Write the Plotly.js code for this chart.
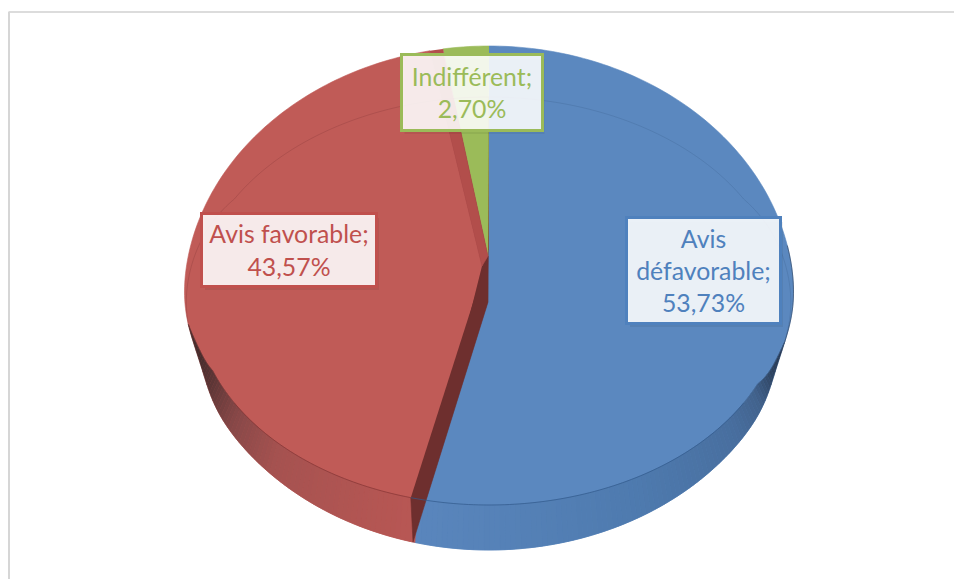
<!DOCTYPE html>
<html>
<head>
<meta charset="utf-8">
<script src="https://cdn.plot.ly/plotly-3.0.1.min.js"></script>
<style>html,body{margin:0;padding:0;background:#fff}#c{width:954px;height:579px}</style>
</head>
<body>
<div id="c"></div>
<script>
// Data
const categories = ['Avis défavorable', 'Avis favorable', 'Indifférent'];
const shares = [53.73, 43.57, 2.70];
const labels = ['Avis<br>défavorable;<br>53,73%', 'Avis favorable;<br>43,57%', 'Indifférent;<br>2,70%'];
const faceColors = ['#5b88bf', '#c05b57', '#9bbb59'];
const labelColors = ['#4f81bd', '#c0504d', '#9bbb59'];

// Projection of the tilted disc
const outer = {cx: 489, cy: 298, rx: 305, ry: 252, pinch: 6};
const inner = {cx: 489, cy: 301, rx: 294, ry: 204, pinch: 0};
const pt = (e, deg) => {
  const fromTop = deg <= 180 ? deg : 360 - deg;
  const pinch = e.pinch * Math.exp(-Math.pow((fromTop - 105) / 10, 2));
  return [e.cx + (e.rx - pinch) * Math.sin(deg * Math.PI / 180), e.cy - e.ry * Math.cos(deg * Math.PI / 180)];
};
const arc = (e, a, b, step = 1) => {
  const out = [];
  const n = Math.max(1, Math.round(Math.abs(b - a) / step));
  for (let i = 0; i <= n; i++) out.push(pt(e, a + (b - a) * i / n));
  return out;
};
const bounds = [0];
shares.forEach(s => bounds.push(bounds[bounds.length - 1] + s * 3.6));

const traces = [];
const poly = (pts, color, name) => traces.push({
  type: 'scatter', mode: 'lines', x: pts.map(p => p[0]), y: pts.map(p => p[1]),
  fill: 'toself', fillcolor: color, line: {color: color, width: 0.6, simplify: false},
  hoverinfo: 'skip', showlegend: false, name: name
});
const stroke = (pts, color, width) => traces.push({
  type: 'scatter', mode: 'lines', x: pts.map(p => p[0]), y: pts.map(p => p[1]),
  line: {color: color, width: width, simplify: false}, hoverinfo: 'skip', showlegend: false
});

const apexBlue = [488, 302], apexGreen = [488, 256], apexRed = [482, 266];
const splitOuter = bounds[1] + 1, splitInner = bounds[1] + 2;
const rimSplit = pt(inner, splitInner);
const outSplit = pt(outer, splitOuter);
const redEnd = bounds[2] - 1.5, greenStart = bounds[2] + 1;
const lerp = (o, n, t) => [o[0] + (n[0] - o[0]) * t, o[1] + (n[1] - o[1]) * t];

// dark interior seen through the gap between the slices
poly(arc(inner, 0, 360, 3), '#6e2f2e');

// faces
poly([...arc(outer, greenStart, bounds[3]), apexGreen], faceColors[2], categories[2]);
poly([...arc(outer, splitOuter, redEnd), apexRed], faceColors[1], categories[1]);
poly([...arc(outer, bounds[0], splitOuter), apexBlue, [489, 250]], faceColors[0], categories[0]);

// side wall shading
const stops = [[100, [38, 52, 75]], [108, [45, 66, 95]], [116, [66, 98, 140]], [125, [72, 110, 158]], [150, [78, 122, 174]], [splitOuter, [90, 134, 189]],
               [splitOuter + 0.01, [184, 87, 84]], [225, [165, 82, 80]], [238, [135, 72, 72]], [248, [95, 55, 55]], [256, [70, 45, 45]], [264, [70, 45, 45]]];
const shade = d => {
  for (let i = 0; i < stops.length - 1; i++) {
    if (d <= stops[i + 1][0]) {
      const t = (d - stops[i][0]) / (stops[i + 1][0] - stops[i][0]);
      const c = stops[i][1].map((v, k) => Math.round(v + (stops[i + 1][1][k] - v) * t));
      return `rgb(${c.join(',')})`;
    }
  }
  return 'rgb(70,45,45)';
};
const sideStart = 100, sideEnd = 264, sideStep = 1;
const clamp = v => Math.max(0, Math.min(1, v));
const taper = d => Math.min(clamp((d - sideStart) / 14), clamp((sideEnd - d) / 14));
const innerAt = d => lerp(pt(outer, d), pt(inner, d), taper(d));
for (let d = sideStart; d < sideEnd; d += sideStep) {
  const b = d + sideStep;
  poly([pt(outer, d), pt(outer, b), innerAt(b), innerAt(d)], shade(d + sideStep / 2));
}

// inner walls exposed by the pulled-out slice
poly([rimSplit, outSplit, apexBlue, apexGreen], '#6e2f2e');
poly([pt(outer, greenStart), apexGreen, apexRed, pt(outer, redEnd)], '#b24e4b');

// rim lines: the upper rim runs into the silhouette where the side wall begins
const rimAt = d => {
  if (d >= sideStart && d <= sideEnd) return innerAt(d);
  if (d > 60 && d < sideStart) return lerp(pt(inner, d), pt(outer, d), (d - 60) / 40);
  if (d > sideEnd && d < 300) return lerp(pt(inner, d), pt(outer, d), (300 - d) / 36);
  return pt(inner, d);
};
const rimArc = (a, b) => { const o = []; for (let d = a; d <= b; d += 1) o.push(rimAt(d)); o.push(rimAt(b)); return o; };
stroke(rimArc(120, splitInner), 'rgba(50,90,140,0.7)', 1);
stroke(rimArc(splitInner, 240), 'rgba(130,50,50,0.65)', 1);
stroke(rimArc(0, 120), 'rgba(70,110,160,0.45)', 1);
stroke(rimArc(240, 360), 'rgba(140,60,60,0.35)', 1);
stroke(arc(outer, 78, 100), 'rgba(40,60,90,0.6)', 1);

const boxes = [
  {x: 703.5, y: 270.5, w: 151, h: 103},
  {x: 289, y: 250, w: 172, h: 70},
  {x: 471.5, y: 92.5, w: 138, h: 73}
];
const annotations = boxes.map((b, i) => ({
  x: b.x, y: b.y, xref: 'x', yref: 'y', xanchor: 'center', yanchor: 'middle',
  text: labels[i], showarrow: false, width: b.w, height: b.h, align: 'center', valign: 'middle',
  bgcolor: 'rgba(255,255,255,0.88)', bordercolor: labelColors[i], borderwidth: 3, borderpad: 0,
  font: {family: 'Lato, Carlito, sans-serif', size: 24.8, color: labelColors[i]}
}));

const shapes = [
  {type: 'line', xref: 'paper', yref: 'paper', x0: 8.5 / 954, x1: 1, y0: 1 - 12 / 579, y1: 1 - 12 / 579, line: {color: '#dcdcdc', width: 2}},
  {type: 'line', xref: 'paper', yref: 'paper', x0: 9 / 954, x1: 9 / 954, y0: 0, y1: 1 - 12 / 579, line: {color: '#d6d6d6', width: 2}}
];
boxes.forEach(b => shapes.push({
  type: 'rect', xref: 'x', yref: 'y', layer: 'above',
  x0: b.x - b.w / 2 + 2, x1: b.x + b.w / 2 + 4, y0: b.y - b.h / 2 + 3, y1: b.y + b.h / 2 + 5,
  fillcolor: 'rgba(0,0,0,0.06)', line: {width: 0}
}));

Plotly.newPlot('c', traces, {
  width: 954, height: 579,
  margin: {l: 0, r: 0, t: 0, b: 0},
  paper_bgcolor: '#fff', plot_bgcolor: '#fff',
  showlegend: false,
  xaxis: {range: [0, 954], visible: false, fixedrange: true},
  yaxis: {range: [579, 0], visible: false, fixedrange: true},
  shapes, annotations
}, {displayModeBar: false, staticPlot: true});
</script>
</body>
</html>
